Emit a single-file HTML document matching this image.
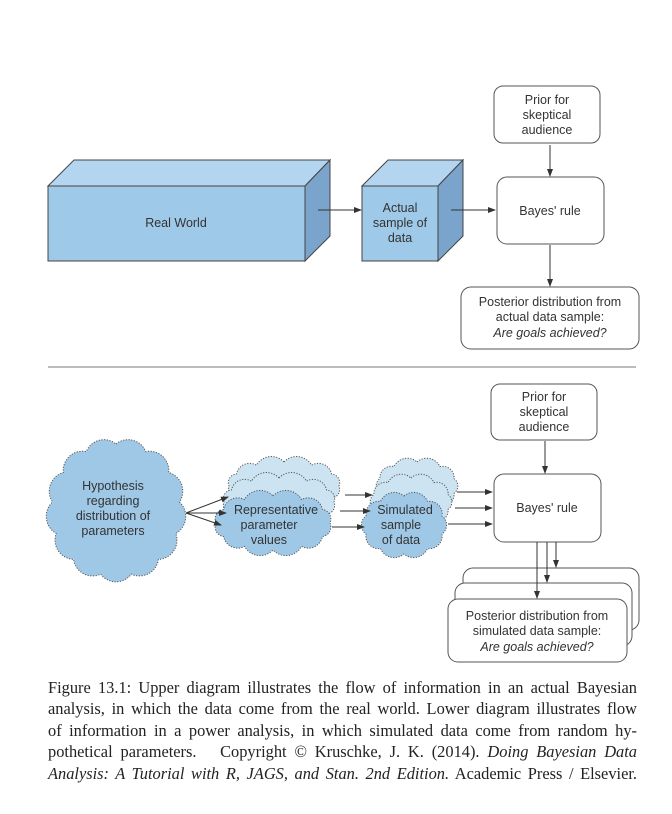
<!DOCTYPE html>
<html><head><meta charset="utf-8"><style>
html,body{margin:0;padding:0;background:#fff;}
body{width:672px;height:814px;position:relative;overflow:hidden;}
svg{position:absolute;left:0;top:0;}
svg text{font-family:"Liberation Sans",sans-serif;font-size:12.5px;fill:#333;}
.cap{position:absolute;left:48px;top:677px;width:589px;font-family:"Liberation Serif",serif;font-size:16.4px;line-height:21.4px;color:#222;}
.cap p{margin:0;text-align:justify;text-align-last:justify;white-space:nowrap;}
</style></head><body>
<svg width="672" height="814" viewBox="0 0 672 814" xmlns="http://www.w3.org/2000/svg">
<defs>
<marker id="ah" markerWidth="8" markerHeight="8" refX="7" refY="4" orient="auto" markerUnits="userSpaceOnUse"><path d="M0,1 L8,4 L0,7 Z" fill="#333"/></marker>
</defs>
<g stroke="#444" stroke-width="1" fill="none">
<polygon points="48,186 74,160 330,160 305,186" fill="#b3d5ef"/>
<polygon points="305,186 330,160 330,236 305,261" fill="#7aa4cb"/>
<rect x="48" y="186" width="257" height="75" fill="#9fc9e8"/>
<polygon points="362,186 388,160 463,160 438,186" fill="#b3d5ef"/>
<polygon points="438,186 463,160 463,236 438,261" fill="#7aa4cb"/>
<rect x="362" y="186" width="76" height="75" fill="#9fc9e8"/>
<rect x="494" y="86" width="106" height="57" rx="9" fill="#fff" stroke="#555"/>
<rect x="497" y="177" width="107" height="67" rx="10" fill="#fff" stroke="#555"/>
<rect x="461" y="287" width="178" height="62" rx="10" fill="#fff" stroke="#555"/>
</g>
<g stroke="#333" stroke-width="1" marker-end="url(#ah)">
<line x1="318" y1="210" x2="361" y2="210"/>
<line x1="451" y1="210" x2="495" y2="210"/>
<line x1="550" y1="145" x2="550" y2="176"/>
<line x1="550" y1="245" x2="550" y2="286"/>
</g>
<text x="176" y="227" text-anchor="middle">Real World</text>
<text x="400" y="212" text-anchor="middle">Actual</text>
<text x="400" y="227" text-anchor="middle">sample of</text>
<text x="400" y="242" text-anchor="middle">data</text>
<text x="547" y="104" text-anchor="middle">Prior for</text>
<text x="547" y="119" text-anchor="middle">skeptical</text>
<text x="547" y="134" text-anchor="middle">audience</text>
<text x="550" y="215" text-anchor="middle">Bayes' rule</text>
<text x="550" y="306" text-anchor="middle">Posterior distribution from</text>
<text x="550" y="321" text-anchor="middle">actual data sample:</text>
<text x="550" y="337" text-anchor="middle" font-style="italic">Are goals achieved?</text>

<line x1="48" y1="367" x2="636" y2="367" stroke="#777" stroke-width="1"/>

<g id="clouds"></g>

<g stroke="#555" fill="#fff">
<rect x="491" y="384" width="106" height="56" rx="9"/>
<rect x="494" y="474" width="107" height="68" rx="10"/>
<rect x="463" y="568" width="176" height="62" rx="10"/>
<rect x="455" y="583" width="177" height="63" rx="10"/>
<rect x="448" y="599" width="179" height="63" rx="10"/>
</g>
<g stroke="#333" stroke-width="1" marker-end="url(#ah)">
<line x1="186" y1="513" x2="228" y2="497"/>
<line x1="186" y1="513" x2="226" y2="513"/>
<line x1="186" y1="513" x2="221" y2="525"/>
<line x1="345" y1="495" x2="372" y2="495"/>
<line x1="340" y1="511" x2="370" y2="511"/>
<line x1="332" y1="527" x2="364" y2="527"/>
<line x1="457" y1="492" x2="492" y2="492"/>
<line x1="455" y1="508" x2="492" y2="508"/>
<line x1="448" y1="524" x2="492" y2="524"/>
<line x1="545" y1="441" x2="545" y2="473"/>
<line x1="537" y1="542" x2="537" y2="598"/>
<line x1="547" y1="542" x2="547" y2="582"/>
<line x1="556" y1="542" x2="556" y2="567"/>
</g>
<text x="544" y="401" text-anchor="middle">Prior for</text>
<text x="544" y="416" text-anchor="middle">skeptical</text>
<text x="544" y="431" text-anchor="middle">audience</text>
<text x="547" y="512" text-anchor="middle">Bayes' rule</text>
<text x="537" y="620" text-anchor="middle">Posterior distribution from</text>
<text x="537" y="635" text-anchor="middle">simulated data sample:</text>
<text x="537" y="651" text-anchor="middle" font-style="italic">Are goals achieved?</text>
<g>
<text x="113" y="490" text-anchor="middle">Hypothesis</text>
<text x="113" y="505" text-anchor="middle">regarding</text>
<text x="113" y="520" text-anchor="middle">distribution of</text>
<text x="113" y="535" text-anchor="middle">parameters</text>
<text x="276" y="514" text-anchor="middle">Representative</text>
<text x="269" y="529" text-anchor="middle">parameter</text>
<text x="269" y="544" text-anchor="middle">values</text>
<text x="405" y="514" text-anchor="middle">Simulated</text>
<text x="401" y="529" text-anchor="middle">sample</text>
<text x="401" y="544" text-anchor="middle">of data</text>
</g>
</svg>
<div class="cap">
<p>Figure 13.1: Upper diagram illustrates the flow of information in an actual Bayesian</p>
<p>analysis, in which the data come from the real world. Lower diagram illustrates flow</p>
<p>of information in a power analysis, in which simulated data come from random hy-</p>
<p>pothetical parameters. &nbsp; Copyright © Kruschke, J. K. (2014). <i>Doing Bayesian Data</i></p>
<p><i>Analysis: A Tutorial with R, JAGS, and Stan. 2nd Edition.</i> Academic Press / Elsevier.</p>
</div>
<script>
function cloud(cx,cy,rx,ry,n,fill){
  var pts=[];
  for(var i=0;i<n;i++){var a=2*Math.PI*i/n-Math.PI/2;pts.push([cx+rx*Math.cos(a),cy+ry*Math.sin(a)]);}
  var d="M"+pts[0][0].toFixed(1)+","+pts[0][1].toFixed(1);
  for(var i=1;i<=n;i++){var p=pts[i%n];var q=pts[i-1];var r=Math.hypot(p[0]-q[0],p[1]-q[1])*0.62;
    d+=" A"+r.toFixed(1)+","+r.toFixed(1)+" 0 0,1 "+p[0].toFixed(1)+","+p[1].toFixed(1);}
  d+="Z";
  return '<path d="'+d+'" fill="'+fill+'" stroke="#555" stroke-width="1" stroke-dasharray="1.2,1.5"/>';
}
var s="";
s+=cloud(116,510,64,66,13,"#9fc8e7");
s+=cloud(284,486,55,24,12,"#cce3f2");
s+=cloud(279,502,55,24,12,"#cce3f2");
s+=cloud(273,523,57,27,12,"#9fc8e7");
s+=cloud(417,486,39,24,10,"#cce3f2");
s+=cloud(411,502,39,24,10,"#cce3f2");
s+=cloud(404,525,40,29,10,"#9fc8e7");
document.getElementById("clouds").innerHTML=s;
</script>
</body></html>
